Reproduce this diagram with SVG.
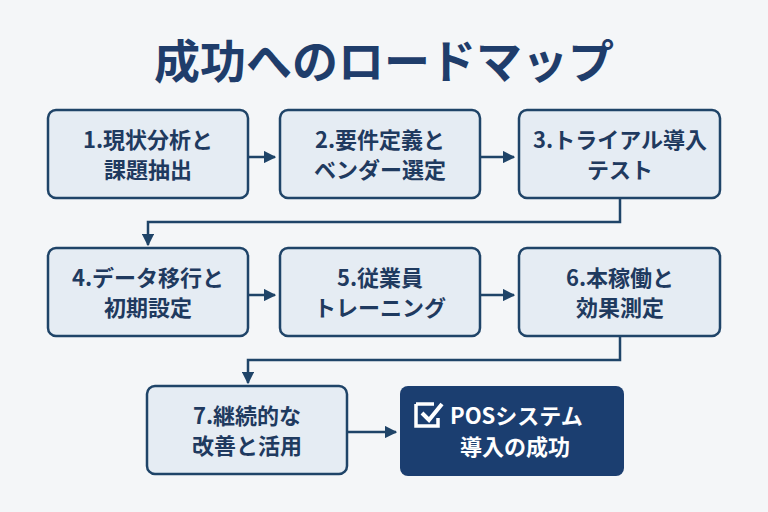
<svg xmlns="http://www.w3.org/2000/svg" width="768" height="512" viewBox="0 0 768 512">
<style>
.b{fill:#e5ecf3;stroke:#1f4468;stroke-width:2.5}
.t{font-family:"Noto Sans CJK JP","Noto Sans",sans-serif;font-weight:bold;font-size:22px;fill:#1f3a5f;text-anchor:middle}
.c{fill:none;stroke:#1f4468;stroke-width:2.5}
</style>
<defs><marker id="a" viewBox="0 0 10 10" refX="9" refY="5" markerWidth="5" markerHeight="5" orient="auto"><path d="M0,0L10,5L0,10z" fill="#1f4468"/></marker></defs>
<rect width="768" height="512" fill="#f4f6f8"/>
<text x="384" y="78" font-family="Noto Sans CJK JP,sans-serif" font-weight="bold" font-size="46" fill="#1f3d6b" text-anchor="middle">成功へのロードマップ</text>
<g id="n1"><rect class="b" x="48" y="110" width="200" height="88" rx="8"/><text class="t" x="148" y="148">1.現状分析と</text><text class="t" x="148" y="178">課題抽出</text></g>
<g id="n2"><rect class="b" x="280" y="110" width="200" height="88" rx="8"/><text class="t" x="380" y="148">2.要件定義と</text><text class="t" x="380" y="178">ベンダー選定</text></g>
<g id="n3"><rect class="b" x="519" y="110" width="201" height="88" rx="8"/><text class="t" x="620" y="148">3.トライアル導入</text><text class="t" x="620" y="178">テスト</text></g>
<g id="n4"><rect class="b" x="48" y="248" width="200" height="88" rx="8"/><text class="t" x="148" y="286">4.データ移行と</text><text class="t" x="148" y="316">初期設定</text></g>
<g id="n5"><rect class="b" x="280" y="248" width="200" height="88" rx="8"/><text class="t" x="380" y="286">5.従業員</text><text class="t" x="380" y="316">トレーニング</text></g>
<g id="n6"><rect class="b" x="519" y="248" width="201" height="88" rx="8"/><text class="t" x="620" y="286">6.本稼働と</text><text class="t" x="620" y="316">効果測定</text></g>
<g id="n7"><rect class="b" x="147" y="386" width="200" height="88" rx="8"/><text class="t" x="247" y="424">7.継続的な</text><text class="t" x="247" y="454">改善と活用</text></g>
<g id="n8"><rect x="400" y="386" width="224" height="90" rx="8" fill="#1b3e70"/>
<path d="M416,404h18M416,404v22h22v-8" fill="none" stroke="#fff" stroke-width="3.5"/><path d="M422,413l7,7l13,-16" fill="none" stroke="#fff" stroke-width="4"/>
<text class="t" x="450" y="424" style="fill:#fff;text-anchor:start">POSシステム</text><text class="t" x="515" y="455" style="fill:#fff">導入の成功</text></g>
<g id="connectors">
<path class="c" d="M248,157H275" marker-end="url(#a)"/>
<path class="c" d="M480,157H514" marker-end="url(#a)"/>
<path class="c" d="M620,198V222H148V245" marker-end="url(#a)"/>
<path class="c" d="M248,295H275" marker-end="url(#a)"/>
<path class="c" d="M480,295H514" marker-end="url(#a)"/>
<path class="c" d="M620,336V360H248V383" marker-end="url(#a)"/>
<path class="c" d="M347,432H396" marker-end="url(#a)"/>
</g>
</svg>
